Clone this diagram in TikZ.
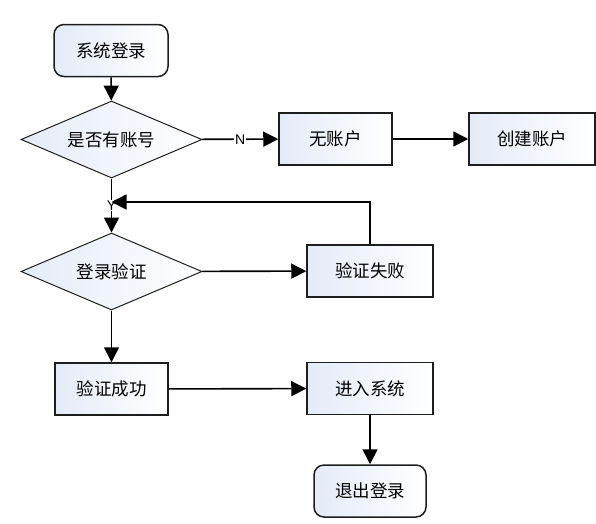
\documentclass[tikz,border=0pt]{standalone}
\usepackage{fontspec}
\setmainfont{Liberation Sans}
\newfontfamily\cjk{Noto Sans CJK SC}
\usetikzlibrary{shapes.geometric,arrows.meta}

\definecolor{boxblue}{RGB}{228,235,248}
\definecolor{edge}{RGB}{30,30,30}

\tikzset{
  box/.style={draw=edge, line width=1.5pt, left color=boxblue, right color=white,
    minimum height=52pt, inner sep=0pt, font=\cjk\fontsize{17.5}{21}\selectfont},
  startbox/.style={box, rounded corners=10pt},
  decide/.style={diamond, draw=edge, line width=1pt, left color=boxblue, right color=white,
    minimum width=181pt, minimum height=77pt, aspect=2.35, inner sep=0pt,
    font=\cjk\fontsize{17.5}{21}\selectfont},
  conn/.style={draw=black, line width=1.6pt, -{Triangle[length=15pt,width=15pt]}},
  tag/.style={fill=white, inner sep=1pt, font=\fontsize{14}{16}\selectfont}
}

\begin{document}
\begin{tikzpicture}[x=1pt, y=-1pt]
  \useasboundingbox (0,0) rectangle (596,523);

  % Coordinates
  \coordinate (A) at (111,50.5);
  \coordinate (B) at (111.5,139.5);
  \coordinate (C) at (335.5,139);
  \coordinate (D) at (532,139);
  \coordinate (E) at (111.5,271.5);
  \coordinate (F) at (370,271);
  \coordinate (G) at (111.5,389);
  \coordinate (H) at (370,388.5);
  \coordinate (K) at (370,491);
  \coordinate (ret) at (111.5,202);

  % Nodes
  \node[startbox, minimum width=114pt] (login) at (A) {系统登录};
  \node[decide] (hasacc) at (B) {是否有账号};
  \node[box, minimum width=113pt] (noacc) at (C) {无账户};
  \node[box, minimum width=126pt] (create) at (D) {创建账户};
  \node[decide] (verify) at (E) {登录验证};
  \node[box, minimum width=126pt] (fail) at (F) {验证失败};
  \node[box, minimum width=113pt] (success) at (G) {验证成功};
  \node[box, minimum width=126pt] (enter) at (H) {进入系统};
  \node[startbox, minimum width=112pt] (logout) at (K) {退出登录};

  % Connectors
  \draw[conn] (login) -- (hasacc);
  \draw[conn] (hasacc) -- node[tag] {N} (noacc);
  \draw[conn] (noacc) -- (create);
  \draw[conn] (hasacc) -- node[tag] {Y} (verify);
  \draw[conn] (fail.north) |- (ret);
  \draw[conn] (verify) -- (fail);
  \draw[conn] (verify) -- (success);
  \draw[conn] (success) -- (enter);
  \draw[conn] (enter) -- (logout);
\end{tikzpicture}
\end{document}
